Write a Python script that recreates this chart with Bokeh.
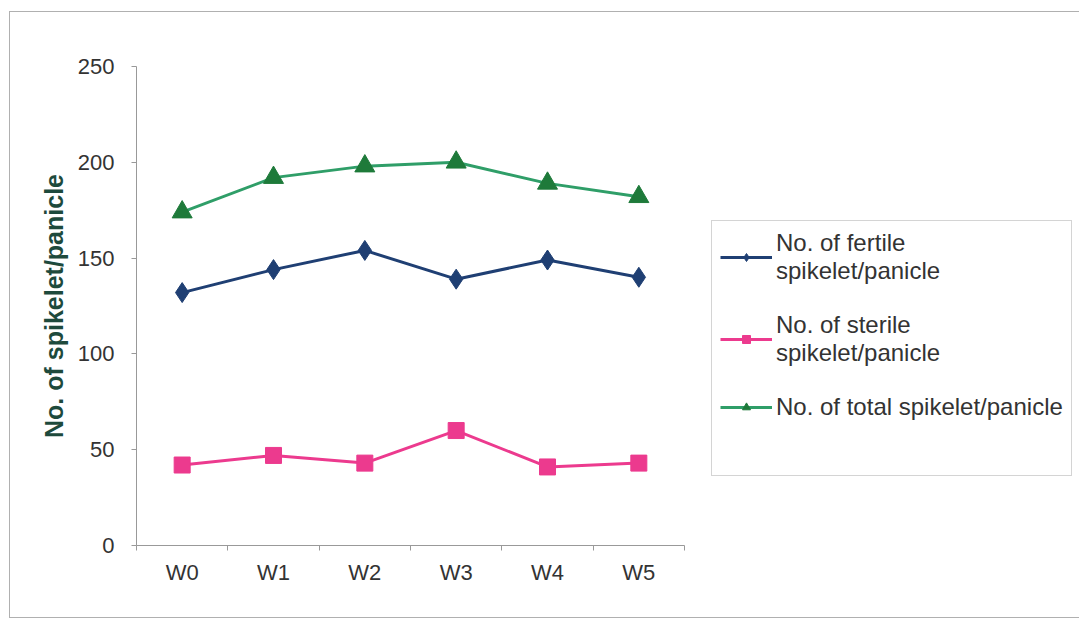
from bokeh.plotting import figure
from bokeh.models import Range1d, FixedTicker, Legend, LegendItem
from bokeh.embed import file_html
from bokeh.resources import INLINE

categories = ["W0", "W1", "W2", "W3", "W4", "W5"]
fertile = [132, 144, 154, 139, 149, 140]
sterile = [42, 47, 43, 60, 41, 43]
total = [174, 192, 198, 200, 189, 182]
y_ticks = [0, 50, 100, 150, 200, 250]

FONT = "Liberation Sans"

xs = [i + 0.5 for i in range(len(categories))]

p = figure(frame_width=548, frame_height=479, output_backend="svg", toolbar_location=None,
           x_range=Range1d(0, len(categories)), y_range=Range1d(0, 250),
           min_border_left=126, min_border_right=392, min_border_top=54, min_border_bottom=72)
p.styles = {"border": "1px solid #b0b0b0", "margin-left": "9px", "margin-top": "11px"}
p.outline_line_color = None
p.xgrid.visible = False
p.ygrid.visible = False
p.background_fill_color = "white"
p.border_fill_color = "white"

# x axis
p.xaxis.ticker = FixedTicker(ticks=xs, minor_ticks=list(range(len(categories) + 1)))
p.xaxis.major_label_overrides = {x: c for x, c in zip(xs, categories)}
p.xaxis.major_tick_line_color = None
p.xaxis.minor_tick_line_color = "#999999"
p.xaxis.minor_tick_in = 0
p.xaxis.minor_tick_out = 5
p.xaxis.axis_line_color = "#999999"
p.xaxis.major_label_text_font = FONT
p.xaxis.major_label_text_font_size = "22px"
p.xaxis.major_label_text_color = "#333333"
p.xaxis.major_label_standoff = 8

# y axis
p.yaxis.ticker = FixedTicker(ticks=y_ticks)
p.yaxis.minor_tick_line_color = None
p.yaxis.major_tick_line_color = "#999999"
p.yaxis.major_tick_in = 0
p.yaxis.major_tick_out = 5
p.yaxis.axis_line_color = "#999999"
p.yaxis.major_label_text_font = FONT
p.yaxis.major_label_text_font_size = "22px"
p.yaxis.major_label_text_color = "#333333"
p.yaxis.major_label_standoff = 17
p.yaxis.axis_label = "No. of spikelet/panicle"
p.yaxis.axis_label_text_font = FONT
p.yaxis.axis_label_text_font_style = "bold"
p.yaxis.axis_label_text_font_size = "25px"
p.yaxis.axis_label_text_color = "#1e4a3c"
p.yaxis.axis_label_standoff = 7

blue = "#1f3f73"
pink = "#ec3a8e"
green_line = "#2f9e68"
green_mark = "#1e7a3a"

l1 = p.line(xs, fertile, line_color=blue, line_width=3)
m1 = p.scatter(xs, fertile, marker="diamond", size=20, fill_color=blue, line_color=blue)
l2 = p.line(xs, sterile, line_color=pink, line_width=3)
m2 = p.scatter(xs, sterile, marker="square", size=16, fill_color=pink, line_color=pink)
l3 = p.line(xs, total, line_color=green_line, line_width=3)
m3 = p.scatter(xs, total, marker="triangle", size=20, fill_color=green_mark, line_color=green_mark)
# invisible renderer used only to leave blank space at the bottom of the legend box
blank = p.line([], [], line_alpha=0)

legend = Legend(items=[
    LegendItem(label="No. of fertile\nspikelet/panicle", renderers=[l1, m1]),
    LegendItem(label="No. of sterile\nspikelet/panicle", renderers=[l2, m2]),
    LegendItem(label="No. of total spikelet/panicle", renderers=[l3, m3]),
    LegendItem(label=" ", renderers=[blank]),
], location=(27, 69))
legend.label_text_font = FONT
legend.label_text_font_size = "24px"
legend.label_text_color = "#333333"
legend.glyph_width = 52
legend.label_standoff = 4
legend.spacing = 26
legend.padding = 8
legend.margin = 0
legend.border_line_color = "#aaaaaa"
legend.background_fill_alpha = 1
p.add_layout(legend, "right")

open("out.html", "w").write(file_html(p, INLINE))
